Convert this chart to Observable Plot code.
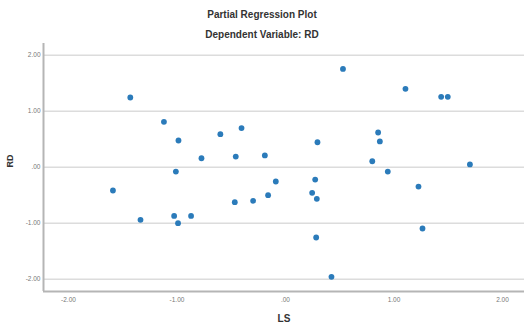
<!DOCTYPE html>
<html>
<head>
<meta charset="utf-8">
<script src="https://cdn.jsdelivr.net/npm/d3@7"></script>
<script src="https://cdn.jsdelivr.net/npm/@observablehq/plot@0.6"></script>
<style>
  html, body { margin: 0; padding: 0; background: #fff; }
  #wrap { width: 524px; font-family: "Liberation Sans", Arial, sans-serif; }
  #titles { position: relative; height: 43px; width: 524px; }
  #titles div { position: absolute; left: 0; width: 524px; text-align: center; font-size: 10px; font-weight: bold; color: #333; line-height: 10px; }
  #t1 { top: 10px; }
  #t2 { top: 30px; }
</style>
</head>
<body>
<div id="wrap">
  <div id="titles"><div id="t1">Partial Regression Plot</div><div id="t2">Dependent Variable: RD</div></div>
  <div id="chart"></div>
</div>
<script>
const title = "Partial Regression Plot";
const subtitle = "Dependent Variable: RD";
const xLabel = "LS";
const yLabel = "RD";

const ls = [-1.43, -1.12, -0.986, -0.60, -0.405, -0.774, -0.458, -0.19,
  0.53, 1.106, 1.435, 1.496, 0.854, 0.295, 0.87, 0.80, 1.70,
  -1.01, -1.59, -1.336, -1.026, -0.99, -0.87, -0.467, -0.298, -0.16, -0.089,
  0.943, 0.274, 0.246, 0.289, 1.226, 1.263, 0.283, 0.424];
const rd = [1.245, 0.81, 0.477, 0.59, 0.70, 0.16, 0.19, 0.21,
  1.756, 1.40, 1.257, 1.257, 0.62, 0.446, 0.46, 0.107, 0.05,
  -0.077, -0.416, -0.94, -0.87, -1.0, -0.87, -0.625, -0.60, -0.50, -0.255,
  -0.077, -0.22, -0.457, -0.565, -0.345, -1.095, -1.255, -1.957];

const xTicks = [-2, -1, 0, 1, 2];
const yTicks = [-2, -1, 0, 1, 2];
const xDomain = [-2.23, 2.203];
const yDomain = [-2.22, 2.21];

const fmt = v => v === 0 ? ".00" : v.toFixed(2);
const data = ls.map((x, i) => ({x, y: rd[i]}));

const chart = Plot.plot({
  width: 524,
  height: 286,
  marginTop: 0,
  marginLeft: 43,
  marginRight: 0,
  marginBottom: 38,
  style: {fontSize: "6.5px", color: "#777", fontFamily: "'Liberation Sans', Arial, sans-serif", background: "#fff"},
  x: {domain: xDomain, ticks: xTicks, tickFormat: fmt, tickSize: 0, tickPadding: 6, label: null},
  y: {domain: yDomain, ticks: yTicks, tickFormat: fmt, tickSize: 0, tickPadding: 3, label: null},
  marks: [
    Plot.ruleY(yTicks, {stroke: "#dcdcdc", strokeWidth: 1.5}),
    Plot.ruleX([xDomain[0]], {stroke: "#b5b5b5", strokeWidth: 2}),
    Plot.ruleY([yDomain[0]], {stroke: "#b5b5b5", strokeWidth: 2}),
    Plot.dot(data, {x: "x", y: "y", r: 2.9, fill: "#2b7bba", stroke: "none"}),
    Plot.text([yLabel], {frameAnchor: "left", dx: -33, rotate: -90, fontSize: 9, fontWeight: "bold", fill: "#333"}),
    Plot.text([xLabel], {frameAnchor: "bottom", dy: 30, fontSize: 10, fontWeight: "bold", fill: "#333"})
  ]
});
document.getElementById("chart").appendChild(chart);
</script>
</body>
</html>
